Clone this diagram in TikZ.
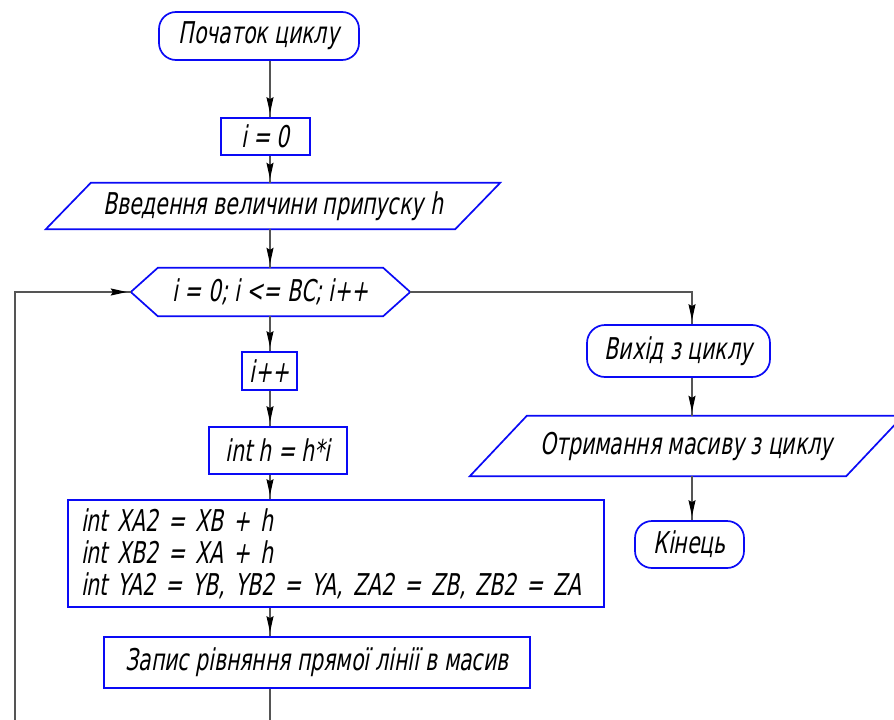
\documentclass[tikz,border=0pt]{standalone}
\usepackage{fontspec}
\setmainfont{DejaVu Sans}[FakeStretch=0.68,FakeSlant=0.18]
\usetikzlibrary{arrows.meta,decorations.markings}
\definecolor{flowblue}{RGB}{10,10,245}
\definecolor{linegray}{RGB}{85,85,85}
\begin{document}
\begin{tikzpicture}[x=1pt,y=-1pt,
  font=\fontsize{30}{32}\selectfont,
  outline/.style={draw=flowblue, line width=1.7pt, line join=miter},
  blockbox/.style={outline, rectangle, inner sep=0pt},
  termbox/.style={outline, rectangle, rounded corners=17pt, inner sep=0pt},
  shapebox/.style={rectangle, inner sep=0pt},
  flow/.style={draw=linegray, line width=1.2pt,
    postaction={decorate},
    decoration={markings,
      mark=at position -4pt with {\arrow{Stealth[length=16pt,width=7pt,inset=2pt,color=black]}}}}
]
\useasboundingbox (0,0) rectangle (894,720);

% connector axes
\coordinate (mainaxis) at (270,0);
\coordinate (sideaxis) at (692,0);
\coordinate (loopaxis) at (15,0);

% main column
\node[termbox, minimum width=200pt, minimum height=48pt] (start) at (259,36) {Початок циклу};
\node[blockbox, minimum width=89pt, minimum height=37pt] (init) at (265.5,136.5) {i = 0};
\node[shapebox, minimum width=454pt, minimum height=46pt] (input) at (273,206) {Введення величини припуску h};
\draw[outline] (input.south west) -- ([xshift=45pt]input.north west) -- (input.north east)
  -- ([xshift=-45pt]input.south east) -- cycle;

\node[shapebox, minimum width=279pt, minimum height=48pt] (loop) at (270.5,292) {i = 0; i <= BC; i++};
\draw[outline] (loop.west) -- ([xshift=27pt]loop.north west) -- ([xshift=-27pt]loop.north east)
  -- (loop.east) -- ([xshift=-27pt]loop.south east) -- ([xshift=27pt]loop.south west) -- cycle;

\node[blockbox, minimum width=55pt, minimum height=38pt] (incr) at (269.5,371) {i++};
\node[blockbox, minimum width=138pt, minimum height=47pt] (hcalc) at (278,450.5) {int h = h*i};
\node[blockbox, minimum height=107pt, text width=510pt, inner xsep=13pt, align=left] (assign) at (336,553.5)
  {int XA2 = XB + h\\int XB2 = XA + h\\int YA2 = YB, YB2 = YA, ZA2 = ZB, ZB2 = ZA};
\node[blockbox, minimum width=426pt, minimum height=51pt] (store) at (317,662.5) {Запис рівняння прямої лінії в масив};

% exit column
\node[termbox, minimum width=183pt, minimum height=52pt, rounded corners=18pt] (exit) at (678.5,351) {Вихід з циклу};
\node[shapebox, minimum width=433pt, minimum height=60pt] (output) at (686.5,446) {Отримання масиву з циклу};
\draw[outline] (output.south west) -- ([xshift=57pt]output.north west) -- (output.north east)
  -- ([xshift=-57pt]output.south east) -- cycle;
\node[termbox, minimum width=109pt, minimum height=47pt] (finish) at (689.5,544.5) {Кінець};

% connectors
\draw[flow] (start.south -| mainaxis) -- (init.north -| mainaxis);
\draw[flow] (init.south -| mainaxis) -- (input.north -| mainaxis);
\draw[flow] (input.south -| mainaxis) -- (loop.north -| mainaxis);
\draw[flow] (loop.south -| mainaxis) -- (incr.north -| mainaxis);
\draw[flow] (incr.south -| mainaxis) -- (hcalc.north -| mainaxis);
\draw[flow] (hcalc.south -| mainaxis) -- (assign.north -| mainaxis);
\draw[flow] (assign.south -| mainaxis) -- (store.north -| mainaxis);
\draw[flow] (store.south -| mainaxis) -- ++(0,60) -| (loopaxis |- loop.west) -- (loop.west);
\draw[flow] (loop.east) -| (exit.north -| sideaxis);
\draw[flow] (exit.south -| sideaxis) -- (output.north -| sideaxis);
\draw[flow] (output.south -| sideaxis) -- (finish.north -| sideaxis);
\end{tikzpicture}
\end{document}
